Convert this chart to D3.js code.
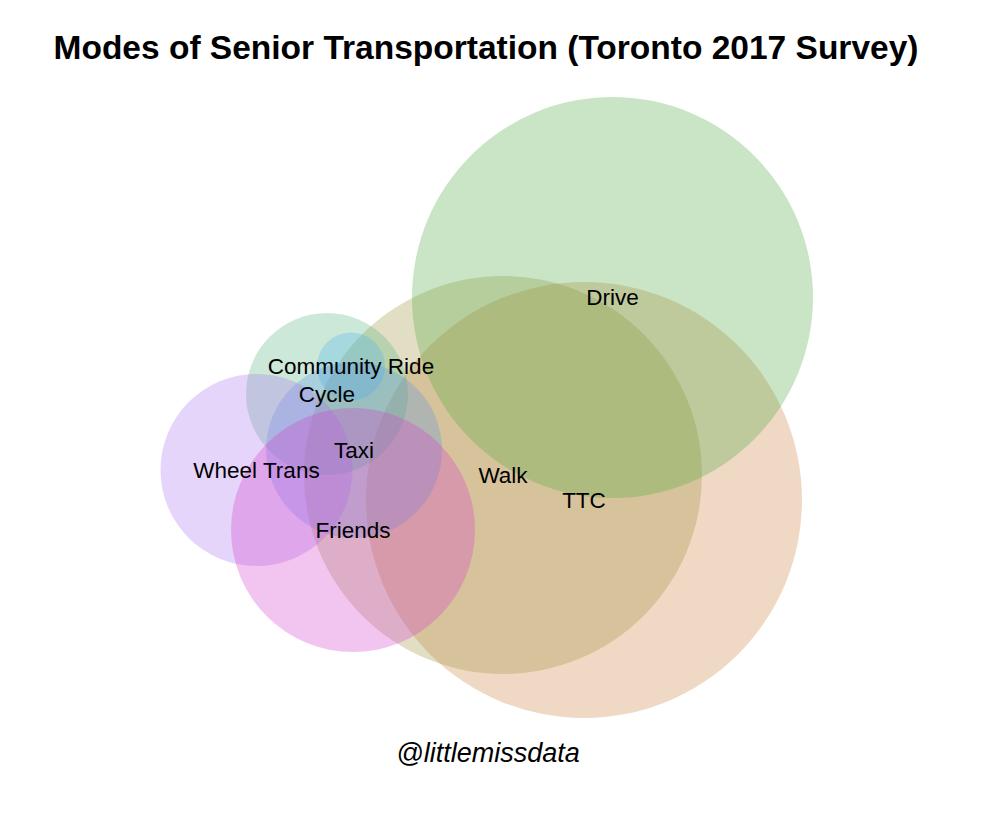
<!DOCTYPE html>
<html lang="en">
<head>
  <meta charset="UTF-8">
  <title>Modes of Senior Transportation</title>
  <style>
    body { margin: 0; background: #fff; }
    text { font-family: 'Liberation Sans', Arial, sans-serif; }
  </style>
</head>
<body>
  <div id="chart"></div>
  <script src="https://cdnjs.cloudflare.com/ajax/libs/d3/7.8.5/d3.min.js"></script>
  <script>
    // Euler layout (plot units, origin at top-left of plot area)
    const modes = ['TTC', 'Walk', 'Drive', 'Cycle', 'Community Ride', 'Taxi', 'Wheel Trans', 'Friends'];
    const centerX = [429, 348, 457.5, 172, 196, 199, 101.5, 198];
    const centerY = [410, 385, 207.5, 304, 276.5, 360, 380, 440];
    const radius = [218, 199, 200.5, 81, 34, 88, 96, 122];
    const fills = ['#cd803a', '#9e913a', '#4ba83e', '#55b27d', '#4db2ee', '#5a96e4', '#ac73ee', '#d43acd'];

    let width = 990, height = 830;
    let plot = { left: 155, top: 90, w: 660, h: 640 };

    let svg = d3.select('#chart').append('svg')
      .attr('width', width)
      .attr('height', height);

    // same scale factor on both axes so circles stay round
    let xScale = d3.scaleLinear().domain([0, plot.w]).range([plot.left, plot.left + plot.w]);
    let yScale = d3.scaleLinear().domain([0, plot.h]).range([plot.top, plot.top + plot.h]);
    let rScale = d3.scaleLinear().domain([0, plot.w]).range([0, plot.w]);

    let data = modes.map((m, i) => ({ name: m, x: centerX[i], y: centerY[i], r: radius[i], fill: fills[i] }));

    svg.append('text')
      .attr('x', 486)
      .attr('y', 59)
      .attr('text-anchor', 'middle')
      .style('font-size', '33.5px')
      .style('font-weight', 'bold')
      .text('Modes of Senior Transportation (Toronto 2017 Survey)');

    svg.selectAll('.set')
      .data(data).enter()
      .append('circle')
      .attr('class', 'set')
      .attr('cx', d => xScale(d.x))
      .attr('cy', d => yScale(d.y))
      .attr('r', d => rScale(d.r))
      .style('fill', d => d.fill)
      .style('fill-opacity', 0.3);

    svg.selectAll('.label')
      .data(data).enter()
      .append('text')
      .attr('class', 'label')
      .attr('x', d => xScale(d.x))
      .attr('y', d => yScale(d.y))
      .attr('dy', '0.35em')
      .attr('text-anchor', 'middle')
      .style('font-size', '22.5px')
      .text(d => d.name);

    svg.append('text')
      .attr('x', 488)
      .attr('y', 762)
      .attr('text-anchor', 'middle')
      .style('font-size', '27px')
      .style('font-style', 'italic')
      .text('@littlemissdata');
  </script>
</body>
</html>
